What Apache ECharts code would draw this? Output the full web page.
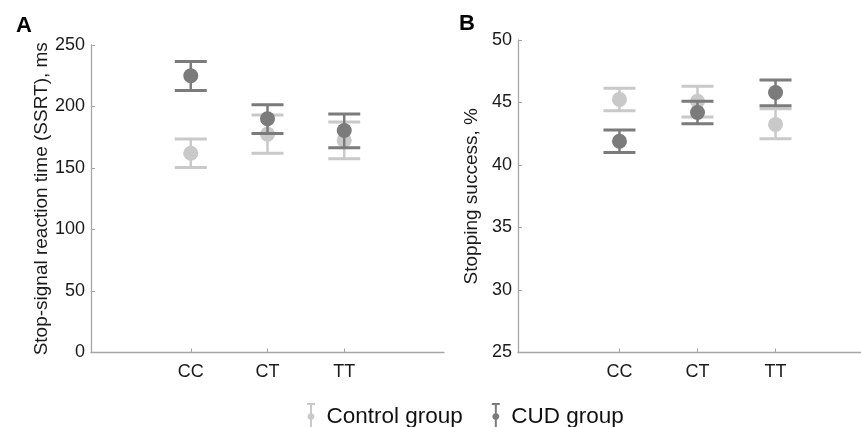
<!DOCTYPE html>
<html>
<head>
<meta charset="utf-8">
<script src="https://cdn.jsdelivr.net/npm/echarts@6/dist/echarts.min.js"></script>
<style>
html,body{margin:0;padding:0;background:#fff;}
#chart{width:861px;height:427px;}
</style>
</head>
<body>
<div id="chart"></div>
<script>
// ---- Data ----
const categories = ['CC', 'CT', 'TT'];
const groupNames = ['Control group', 'CUD group'];

// Panel A: SSRT (ms)
const ssrtControlMean = [162, 177.5, 172.5];
const ssrtControlLow  = [150.5, 162, 157.5];
const ssrtControlHigh = [173.5, 193, 187.5];
const ssrtCudMean = [225, 190, 180.5];
const ssrtCudLow  = [213, 178, 166.5];
const ssrtCudHigh = [236.5, 201.5, 194];

// Panel B: stopping success (%)
const stopControlMean = [45.25, 45.1, 43.25];
const stopControlLow  = [44.35, 43.85, 42.1];
const stopControlHigh = [46.15, 46.3, 44.5];
const stopCudMean = [41.9, 44.2, 45.8];
const stopCudLow  = [41.0, 43.3, 44.75];
const stopCudHigh = [42.8, 45.1, 46.8];

// ---- Styles ----
const FONT = '"Liberation Sans", Arial, sans-serif';
const colorControl = '#c9c9c9';
const colorCud = '#7b7b7b';
const axisColor = '#a6a6a6';
const textColor = '#1a1a1a';

function buildData(mean, low, high) {
  return categories.map((c, i) => [i + 1, mean[i], low[i], high[i]]);
}

function renderErrorBar(color) {
  return function (params, api) {
    const x = api.value(0);
    const pm = api.coord([x, api.value(1)]);
    const pl = api.coord([x, api.value(2)]);
    const ph = api.coord([x, api.value(3)]);
    const hw = 16;
    const ls = { stroke: color, lineWidth: 3 };
    return {
      type: 'group',
      children: [
        { type: 'line', shape: { x1: pl[0], y1: pl[1], x2: ph[0], y2: ph[1] }, style: Object.assign({}, ls, { lineWidth: 2.5 }) },
        { type: 'line', shape: { x1: ph[0] - hw, y1: ph[1], x2: ph[0] + hw, y2: ph[1] }, style: ls },
        { type: 'line', shape: { x1: pl[0] - hw, y1: pl[1], x2: pl[0] + hw, y2: pl[1] }, style: ls },
        { type: 'circle', shape: { cx: pm[0], cy: pm[1], r: 7.5 }, style: { fill: color } }
      ]
    };
  };
}

function makeSeries(name, color, data, idx) {
  return {
    type: 'custom',
    name: name,
    xAxisIndex: idx,
    yAxisIndex: idx,
    itemStyle: { color: color },
    encode: { x: 0, y: [1, 2, 3] },
    renderItem: renderErrorBar(color),
    data: data,
    silent: true,
    clip: false
  };
}

function xAxisCfg(idx) {
  return {
    type: 'value', gridIndex: idx, min: -0.3, max: 4.3,
    axisLine: { show: true, onZero: false, lineStyle: { color: axisColor, width: 1.3 } },
    axisTick: { show: true, inside: true, length: 4, customValues: [1, 2, 3], lineStyle: { color: axisColor } },
    axisLabel: {
      customValues: [1, 2, 3],
      formatter: v => categories[Math.round(v) - 1] || '',
      color: textColor, fontSize: 18, fontFamily: FONT, margin: 11
    },
    splitLine: { show: false }
  };
}

function yAxisCfg(idx, min, max, interval, name, nameGap) {
  return {
    type: 'value', gridIndex: idx, min: min, max: max, interval: interval,
    name: name, nameLocation: 'middle', nameGap: nameGap, nameRotate: 90,
    nameTextStyle: { color: textColor, fontSize: 19, fontFamily: FONT },
    axisLine: { show: true, onZero: false, lineStyle: { color: axisColor, width: 1.3 } },
    axisTick: { show: true, inside: true, length: 4, lineStyle: { color: axisColor } },
    axisLabel: { color: textColor, fontSize: 18, fontFamily: FONT, margin: 6 },
    splitLine: { show: false }
  };
}

const legendIcon = 'path://M0,0H8V2H5V10.2A3.5,3.5 0 0 1 5,16.8V25H8V27H0V25H3V16.8A3.5,3.5 0 0 1 3,10.2V2H0Z';

const option = {
  backgroundColor: '#ffffff',
  animation: false,
  title: [
    { text: 'A', left: 11, top: 10, textStyle: { fontSize: 22, fontWeight: 'bold', color: '#000', fontFamily: FONT } },
    { text: 'B', left: 454, top: 8, textStyle: { fontSize: 22, fontWeight: 'bold', color: '#000', fontFamily: FONT } }
  ],
  legend: {
    left: 302, top: 398,
    itemWidth: 9, itemHeight: 27, itemGap: 29,
    data: [
      { name: groupNames[0], icon: legendIcon },
      { name: groupNames[1], icon: legendIcon }
    ],
    textStyle: { fontSize: 22.5, color: '#111', fontFamily: FONT, padding: [0, 0, 0, 6] },
    selectedMode: false
  },
  grid: [
    { left: 91, top: 45, width: 353, height: 307.5, outerBoundsMode: 'none', containLabel: false },
    { left: 518, top: 40, width: 359, height: 312.5, outerBoundsMode: 'none', containLabel: false }
  ],
  xAxis: [xAxisCfg(0), xAxisCfg(1)],
  yAxis: [
    yAxisCfg(0, 0, 250, 50, 'Stop-signal reaction time (SSRT), ms', 39.5),
    yAxisCfg(1, 25, 50, 5, 'Stopping success, %', 36.5)
  ],
  series: [
    makeSeries(groupNames[0], colorControl, buildData(ssrtControlMean, ssrtControlLow, ssrtControlHigh), 0),
    makeSeries(groupNames[1], colorCud, buildData(ssrtCudMean, ssrtCudLow, ssrtCudHigh), 0),
    makeSeries(groupNames[0], colorControl, buildData(stopControlMean, stopControlLow, stopControlHigh), 1),
    makeSeries(groupNames[1], colorCud, buildData(stopCudMean, stopCudLow, stopCudHigh), 1)
  ]
};

const chart = echarts.init(document.getElementById('chart'), null, { renderer: 'canvas' });
chart.setOption(option);
</script>
</body>
</html>
